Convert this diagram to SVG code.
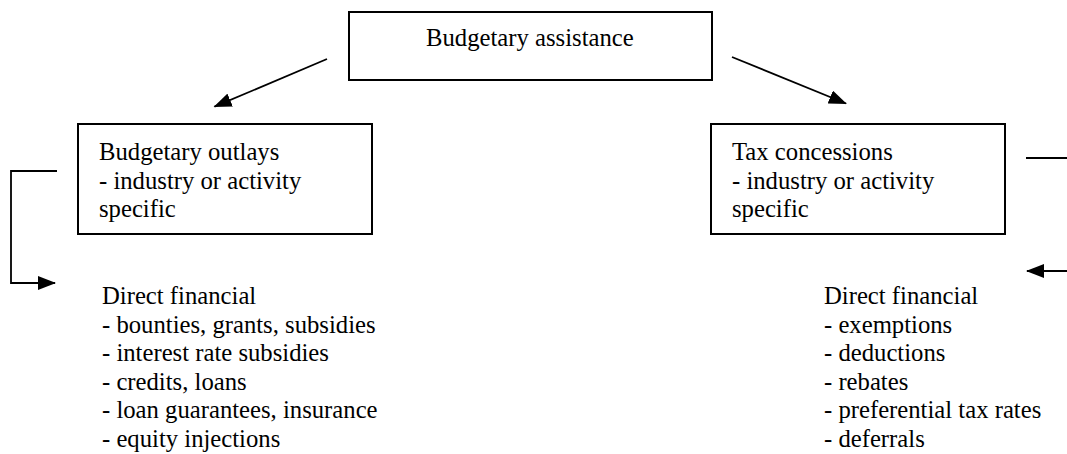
<svg xmlns="http://www.w3.org/2000/svg" width="1067" height="454" viewBox="0 0 1067 454">
<style>
text{font-family:"Liberation Serif","Times New Roman",serif;font-size:24.7px;fill:#000}
.box{fill:#fff;stroke:#000;stroke-width:2}
.con{fill:none;stroke:#000;stroke-width:1.8}
</style>
<defs>
<marker id="ah" viewBox="0 0 18 14" refX="17" refY="7" markerWidth="18" markerHeight="14" markerUnits="userSpaceOnUse" orient="auto">
<path d="M0,0 L18,7 L0,14 z" fill="#000"/>
</marker>
</defs>
<rect width="1067" height="454" fill="#fff"/>
<g id="budgetary-assistance">
<rect class="box" x="349" y="12" width="363" height="68"/>
<text x="426" y="46">Budgetary assistance</text>
</g>
<g id="budgetary-outlays">
<rect class="box" x="78" y="124" width="294" height="110"/>
<text x="99" y="160">Budgetary outlays</text>
<text x="99" y="188.5">- industry or activity</text>
<text x="99" y="217">specific</text>
</g>
<g id="tax-concessions">
<rect class="box" x="711" y="124" width="294" height="110"/>
<text x="732" y="160">Tax concessions</text>
<text x="732" y="188.5">- industry or activity</text>
<text x="732" y="217">specific</text>
</g>
<g id="direct-financial-outlays">
<text x="102" y="304">Direct financial</text>
<text x="102" y="332.5">- bounties, grants, subsidies</text>
<text x="102" y="361">- interest rate subsidies</text>
<text x="102" y="389.5">- credits, loans</text>
<text x="102" y="418">- loan guarantees, insurance</text>
<text x="102" y="446.5">- equity injections</text>
</g>
<g id="direct-financial-tax">
<text x="824" y="304">Direct financial</text>
<text x="824" y="332.5">- exemptions</text>
<text x="824" y="361">- deductions</text>
<text x="824" y="389.5">- rebates</text>
<text x="824" y="418">- preferential tax rates</text>
<text x="824" y="446.5">- deferrals</text>
</g>
<g id="connectors">
<line class="con" x1="327" y1="59" x2="214.5" y2="106.7" marker-end="url(#ah)"/>
<line class="con" x1="732" y1="57" x2="846" y2="103.5" marker-end="url(#ah)"/>
<polyline class="con" points="57,171 11,171 11,283 55,283" marker-end="url(#ah)"/>
<line class="con" x1="1026" y1="158" x2="1067" y2="158"/>
<line class="con" x1="1067" y1="271" x2="1027" y2="271" marker-end="url(#ah)"/>
</g>
</svg>
